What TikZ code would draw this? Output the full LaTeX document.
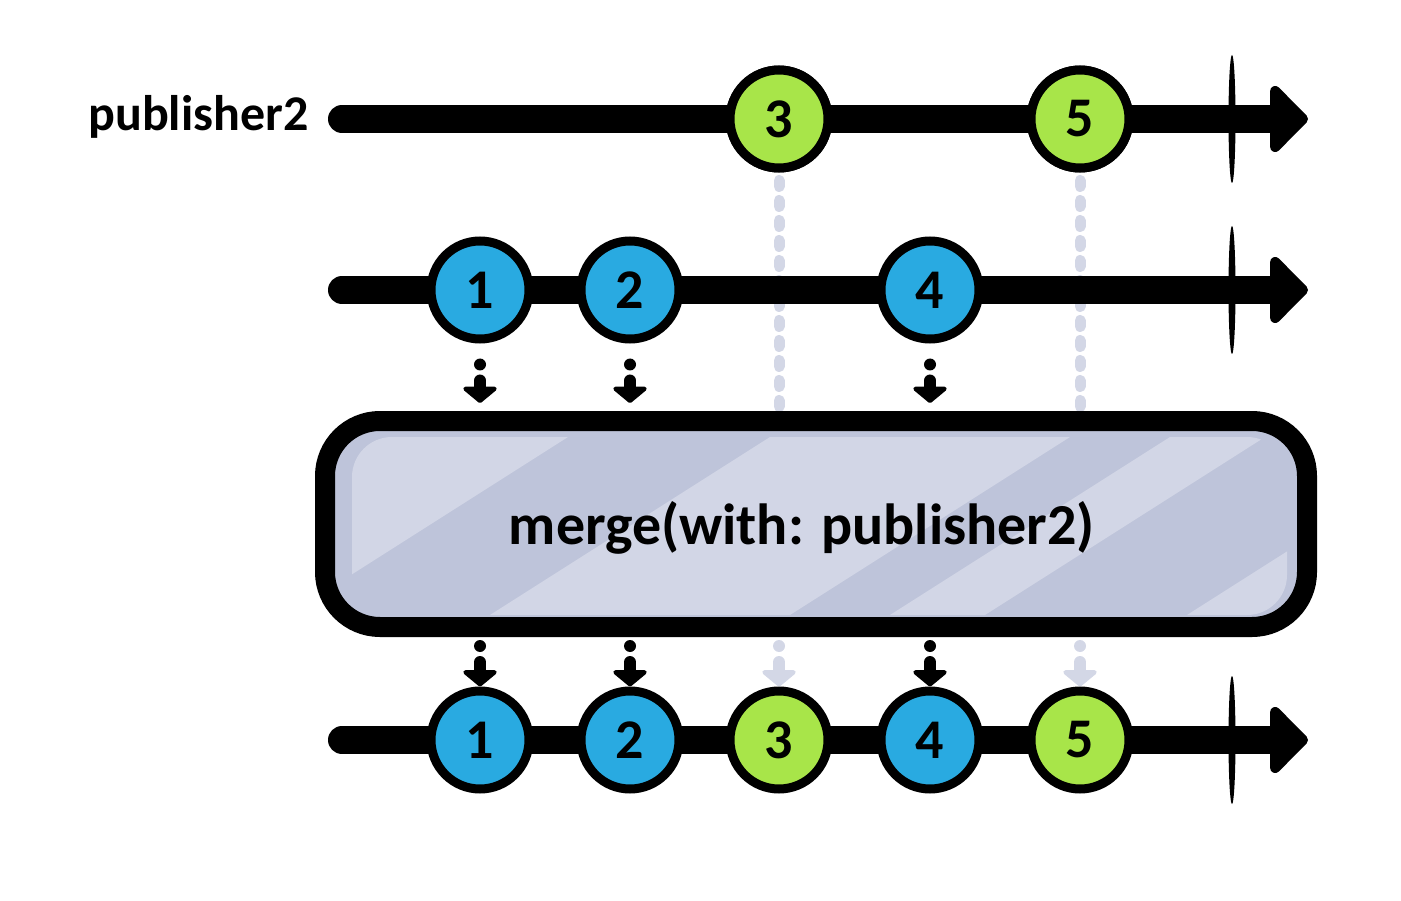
\documentclass[tikz,border=0pt]{standalone}
\usepackage{fontspec}
\setmainfont{Carlito}
\usepackage{xcolor}
\usepackage{tikz}
\usetikzlibrary{arrows.meta,positioning,calc}
\definecolor{ballblue}{RGB}{41,170,225}
\definecolor{ballgreen}{RGB}{168,229,73}
\definecolor{boxdark}{RGB}{190,196,218}
\definecolor{boxlight}{RGB}{210,214,230}
\definecolor{ghostgray}{RGB}{211,215,230}

\begin{document}
\begin{tikzpicture}[x=1pt, y=-1pt,
  track/.style={line width=28pt, line cap=round, -{Triangle[width=78pt,length=40pt,round]}},
  ball/.style={circle, draw=black, line width=9pt, minimum size=98pt, inner sep=0pt,
    font=\fontsize{56}{56}\selectfont\bfseries},
  blueball/.style={ball, fill=ballblue},
  greenball/.style={ball, fill=ballgreen},
  feed/.style={line width=12pt, line cap=round, dash pattern=on 0pt off 16pt on 200pt off 0pt,
    -{Triangle[width=40pt,length=17pt,round]}},
  ghost/.style={draw=ghostgray, line width=11pt, line cap=round, dash pattern=on 6pt off 14pt},
  opbox/.style={draw=black, line width=20pt, rounded corners=55pt, fill=boxdark,
    minimum width=982pt, minimum height=206pt},
  stripe/.style={fill=boxlight}]
  \useasboundingbox (0,0) rectangle (1401,901);

  % track ends
  \coordinate (s1) at (342,119);  \coordinate (e1) at (1308,119);
  \coordinate (s2) at (342,290);  \coordinate (e2) at (1308,290);
  \coordinate (s3) at (342,740);  \coordinate (e3) at (1308,740);

  % publisher2 marbles (drawn first for the ghost lines)
  \node[greenball] (p3) at (779,119) {3};
  \node[greenball] (p5) at (1080,119) {5};
  \node[opbox, draw=none, fill=none] (box) at (816,524) {};
  \draw[ghost, shorten <=8pt] (p3.south) -- (p3.south |- box.north);
  \draw[ghost, shorten <=8pt] (p5.south) -- (p5.south |- box.north);

  % tracks
  \draw[track] (s1) -- (e1);
  \draw[track] (s2) -- (e2);
  \draw[track] (s3) -- (e3);
  \fill (1232,119) ellipse [x radius=3.5, y radius=64];
  \fill (1232,290) ellipse [x radius=3.5, y radius=64];
  \fill (1232,740) ellipse [x radius=3.5, y radius=64];

  \node[anchor=east, font=\fontsize{50}{50}\selectfont\bfseries] (pub) at (312,117) {publisher2};

  % marbles
  \node[greenball] (p3) at (779,119) {3};
  \node[greenball] (p5) at (1080,119) {5};
  \node[blueball] (a1) at (480,290) {1};
  \node[blueball] (a2) at (630,290) {2};
  \node[blueball] (a4) at (930,290) {4};
  \node[blueball] (b1) at (480,740) {1};
  \node[blueball] (b2) at (630,740) {2};
  \node[greenball] (b3) at (779,740) {3};
  \node[blueball] (b4) at (930,740) {4};
  \node[greenball] (b5) at (1080,740) {5};

  % operator box with light diagonal bands
  \node[opbox] (box) at (816,524) {};
  \begin{scope}
    \clip[rounded corners=40pt] (352,437) rectangle (1287,615);
    \fill[stripe] (-12,615) -- (288,615) -- (568,437) -- (268,437) -- cycle;
    \fill[stripe] (490,615) -- (790,615) -- (1070,437) -- (770,437) -- cycle;
    \fill[stripe] (890,615) -- (985,615) -- (1265,437) -- (1170,437) -- cycle;
    \fill[stripe] (1187,615) -- (1487,615) -- (1767,437) -- (1467,437) -- cycle;
  \end{scope}
  \node[font=\fontsize{58}{58}\selectfont\bfseries] (op) at (802,528) {merge(with: publisher2)};

  % feeds into and out of the operator
  \draw[feed, shorten <=21pt, shorten >=8pt] (a1.south) -- (a1.south |- box.north);
  \draw[feed, shorten <=21pt, shorten >=8pt] (a2.south) -- (a2.south |- box.north);
  \draw[feed, shorten <=21pt, shorten >=8pt] (a4.south) -- (a4.south |- box.north);
  \draw[feed, shorten <=9pt] (b1.north |- box.south) -- (b1.north);
  \draw[feed, shorten <=9pt] (b2.north |- box.south) -- (b2.north);
  \draw[feed, color=ghostgray, shorten <=9pt] (b3.north |- box.south) -- (b3.north);
  \draw[feed, shorten <=9pt] (b4.north |- box.south) -- (b4.north);
  \draw[feed, color=ghostgray, shorten <=9pt] (b5.north |- box.south) -- (b5.north);
\end{tikzpicture}
\end{document}
